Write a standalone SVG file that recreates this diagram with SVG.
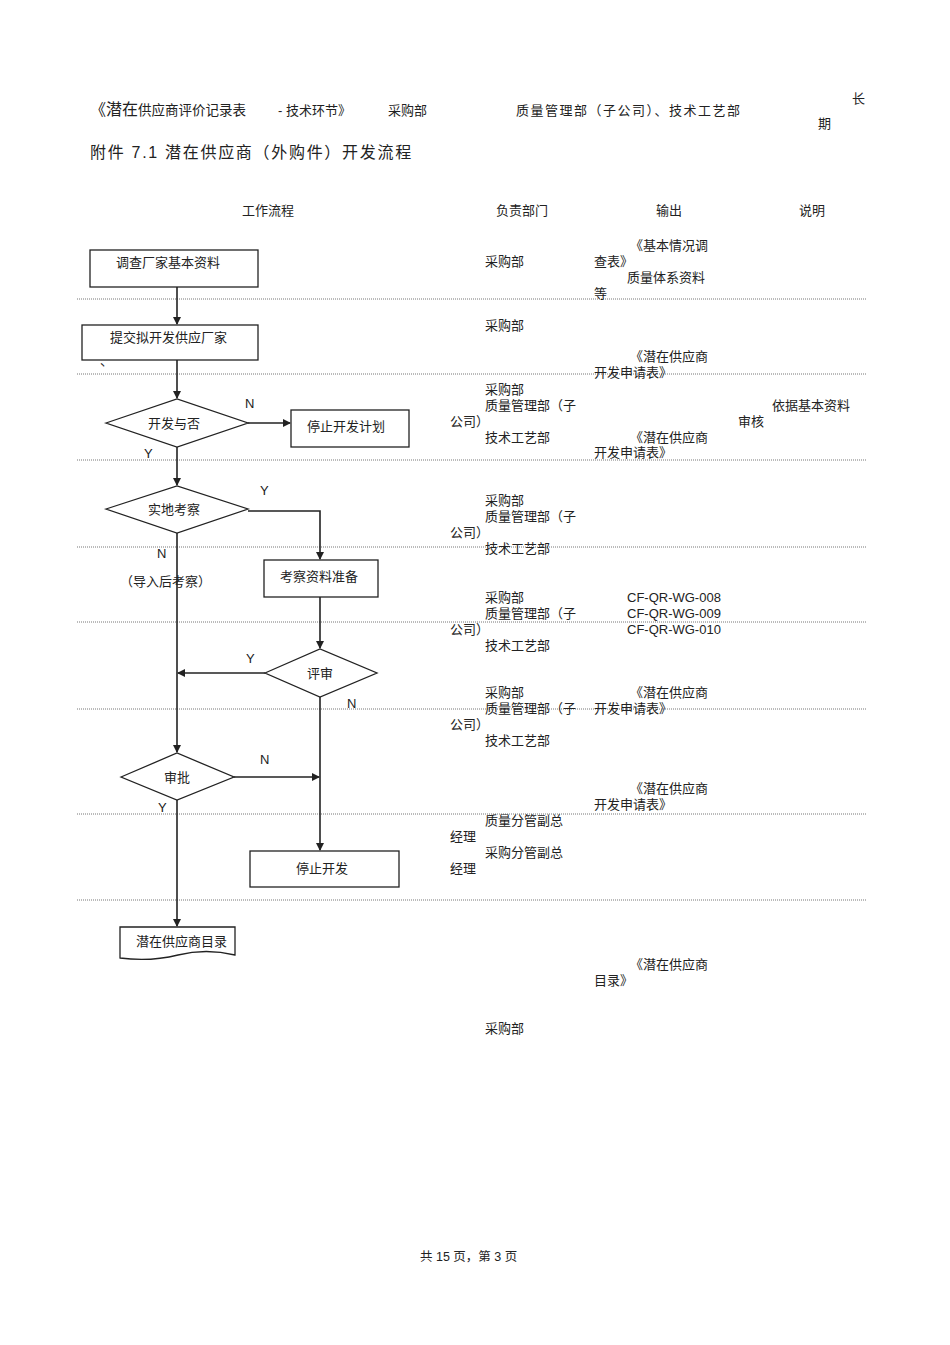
<svg xmlns="http://www.w3.org/2000/svg" width="950" height="1345" viewBox="0 0 950 1345">
<defs>
<style>
text{font-family:"Liberation Sans","Noto Sans CJK SC",sans-serif;font-size:13px;fill:#222}
.t{font-size:12.5px}
.big{font-size:16px}
.n{fill:#fff;stroke:#222;stroke-width:1.3}
.c{fill:none;stroke:#222;stroke-width:1.6}
.d{stroke:#777;stroke-width:1;stroke-dasharray:1 1}
</style>
<marker id="a" markerWidth="8" markerHeight="8" refX="7" refY="4" orient="auto" markerUnits="userSpaceOnUse"><path d="M0,0L8,4L0,8z" fill="#222"/></marker>
</defs>
<rect width="950" height="1345" fill="#fff"/>
<g id="header">
<text x="90" y="115" class="big">《潜在<tspan font-size="13.5">供应商评价记录表 </tspan></text>
<text x="278" y="115">- 技术环节》</text>
<text x="388" y="115">采购部</text>
<text x="516" y="115" letter-spacing="1.5">质量管理部（子公司）、技术工艺部</text>
<text x="852" y="103">长</text>
<text x="818" y="128">期</text>
<text x="90" y="158" class="big" letter-spacing="1.7">附件 7.1  潜在供应商（外购件）开发流程</text>
<text x="242" y="215">工作流程</text>
<text x="496" y="215">负责部门</text>
<text x="656" y="215">输出</text>
<text x="799" y="215">说明</text>
</g>
<g id="grid">
<line class="d" x1="77" y1="299" x2="866" y2="299"/>
<line class="d" x1="77" y1="374" x2="866" y2="374"/>
<line class="d" x1="77" y1="460" x2="866" y2="460"/>
<line class="d" x1="77" y1="547" x2="866" y2="547"/>
<line class="d" x1="77" y1="622" x2="866" y2="622"/>
<line class="d" x1="77" y1="709" x2="866" y2="709"/>
<line class="d" x1="77" y1="814" x2="866" y2="814"/>
<line class="d" x1="77" y1="900" x2="866" y2="900"/>
</g>
<g id="connectors">
<line class="c" x1="177" y1="287" x2="177" y2="324" marker-end="url(#a)"/>
<line class="c" x1="177" y1="360" x2="177" y2="398" marker-end="url(#a)"/>
<line class="c" x1="248" y1="423" x2="290" y2="423" marker-end="url(#a)"/>
<line class="c" x1="177" y1="447" x2="177" y2="485" marker-end="url(#a)"/>
<polyline class="c" points="248,511 320,511 320,559" marker-end="url(#a)"/>
<line class="c" x1="320" y1="597" x2="320" y2="648" marker-end="url(#a)"/>
<line class="c" x1="265" y1="673" x2="178" y2="673" marker-end="url(#a)"/>
<line class="c" x1="320" y1="697" x2="320" y2="850" marker-end="url(#a)"/>
<line class="c" x1="177" y1="533" x2="177" y2="752" marker-end="url(#a)"/>
<line class="c" x1="234" y1="777" x2="319" y2="777" marker-end="url(#a)"/>
<line class="c" x1="177" y1="800" x2="177" y2="926" marker-end="url(#a)"/>
<text x="245" y="408">N</text><text x="144" y="458">Y</text>
<text x="260" y="495">Y</text><text x="157" y="558">N</text>
<text x="246" y="663">Y</text><text x="347" y="708">N</text>
<text x="260" y="764">N</text><text x="158" y="812">Y</text>
<text x="120" y="586">（导入后考察）</text>
</g>
<g id="n1"><rect class="n" x="90" y="250" width="168" height="37"/><text x="116" y="267">调查厂家基本资料</text></g>
<g id="n2"><rect class="n" x="82" y="325" width="176" height="35"/><text x="110" y="342">提交拟开发供应厂家</text><text x="100" y="365" font-size="9">、</text></g>
<g id="n3"><polygon class="n" points="106,423 177,399 248,423 177,447"/><text x="148" y="428">开发与否</text></g>
<g id="n4"><rect class="n" x="291" y="410" width="118" height="37"/><text x="307" y="431">停止开发计划</text></g>
<g id="n5"><polygon class="n" points="106,509 177,486 248,509 177,533"/><text x="148" y="514">实地考察</text></g>
<g id="n6"><rect class="n" x="264" y="560" width="114" height="37"/><text x="280" y="581">考察资料准备</text></g>
<g id="n7"><polygon class="n" points="265,673 320,649 377,673 320,697"/><text x="307" y="678">评审</text></g>
<g id="n8"><polygon class="n" points="121,777 177,753 234,777 177,800"/><text x="164" y="782">审批</text></g>
<g id="n9"><rect class="n" x="250" y="851" width="149" height="36"/><text x="296" y="873">停止开发</text></g>
<g id="n10"><path class="n" d="M120,927H235V955Q206,948 178,955T120,958Z"/><text x="136" y="946" font-size="10.5">潜在供应商目录</text></g>
<g id="right" class="t">
<text x="485" y="266">采购部</text>
<text x="630" y="250">《基本情况调</text><text x="594" y="266">查表》</text>
<text x="627" y="282">质量体系资料</text><text x="594" y="298">等</text>
<text x="485" y="330">采购部</text>
<text x="630" y="361">《潜在供应商</text><text x="594" y="377">开发申请表》</text>
<text x="485" y="394">采购部</text><text x="485" y="410">质量管理部（子</text><text x="450" y="426">公司）</text><text x="485" y="442">技术工艺部</text>
<text x="772" y="410">依据基本资料</text><text x="738" y="426">审核</text>
<text x="630" y="442">《潜在供应商</text><text x="594" y="457">开发申请表》</text>
<text x="485" y="505">采购部</text><text x="485" y="521">质量管理部（子</text><text x="450" y="537">公司）</text><text x="485" y="553">技术工艺部</text>
<text x="485" y="602">采购部</text><text x="485" y="618">质量管理部（子</text><text x="450" y="634">公司）</text><text x="485" y="650">技术工艺部</text>
<text x="627" y="602">CF-QR-WG-008</text><text x="627" y="618">CF-QR-WG-009</text><text x="627" y="634">CF-QR-WG-010</text>
<text x="485" y="697">采购部</text><text x="485" y="713">质量管理部（子</text><text x="450" y="729">公司）</text><text x="485" y="745">技术工艺部</text>
<text x="630" y="697">《潜在供应商</text><text x="594" y="713">开发申请表》</text>
<text x="630" y="793">《潜在供应商</text><text x="594" y="809">开发申请表》</text>
<text x="485" y="825">质量分管副总</text><text x="450" y="841">经理</text>
<text x="485" y="857">采购分管副总</text><text x="450" y="873">经理</text>
<text x="630" y="969">《潜在供应商</text><text x="594" y="985">目录》</text>
<text x="485" y="1033">采购部</text>
</g>
<text x="420" y="1261" class="t">共 15 页，第 3 页</text>
</svg>
